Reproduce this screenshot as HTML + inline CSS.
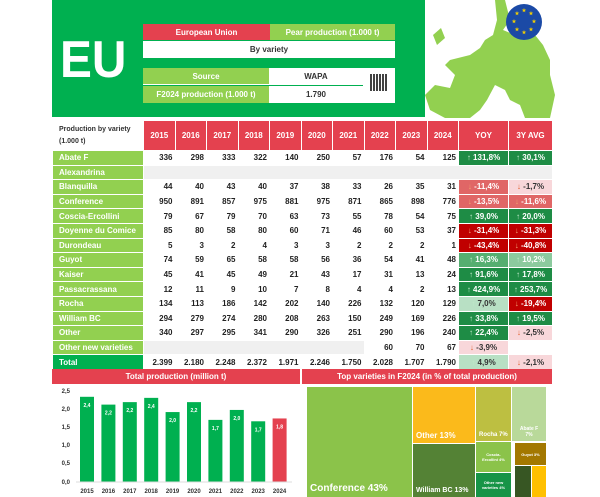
<!DOCTYPE html>
<html><head><meta charset="utf-8"><style>
*{margin:0;padding:0;box-sizing:border-box}
body{width:600px;height:497px;background:#fff;position:relative;overflow:hidden;font-family:"Liberation Sans",Arial,sans-serif;font-weight:bold}
.a{position:absolute}
.c{display:flex;align-items:center;justify-content:center;text-align:center}
table{position:absolute;left:52px;top:120px;border-collapse:collapse;table-layout:fixed;width:500px;font-size:8px}
td{height:14.6px;border:1px solid #fff;padding:0 2px;text-align:right;color:#222;white-space:nowrap;overflow:hidden}
td.l{background:#92D050;color:#fff;text-align:left;padding-left:6px}
th{background:#E4414F;color:#fff;height:30px;border:1px solid #fff;font-size:8px}
th.l{background:#fff;color:#333;text-align:left;padding-left:6px;font-size:7px;line-height:12px}
.g{background:#f0f0f0}
.p{color:#fff;text-align:center}
.dg{background:#1E8C45}.mg{background:#55AE70}.lg{background:#8CCA9E}.vg{background:#B8E0C4;color:#333}
.dr{background:#C00000}.mr{background:#E06666}.pr{background:#F8D7DA;color:#333}
.u::before{content:"↑ ";color:#bfe8c9}.d::before{content:"↓ ";color:#E06030}
.dr.d::before,.mr.d::before{color:#F0A070}
.tm{position:absolute;color:#fff;display:flex;align-items:flex-end;padding:3px;white-space:nowrap}
</style></head><body>
<div class="a" style="left:52px;top:0;width:373px;height:117px;background:#00B050"></div>
<div class="a" style="left:60px;top:30px;font-size:52px;color:#fff;font-weight:bold;transform:scaleX(0.92);transform-origin:left">EU</div>
<div class="a c" style="left:143px;top:24px;width:127px;height:16px;background:#E4414F;color:#fff;font-size:8px">European Union</div>
<div class="a c" style="left:270px;top:24px;width:125px;height:16px;background:#92D050;color:#fff;font-size:8px">Pear production (1.000 t)</div>
<div class="a c" style="left:143px;top:41px;width:252px;height:17px;background:#fff;color:#333;font-size:8px">By variety</div>
<div class="a c" style="left:143px;top:68px;width:126px;height:17px;background:#92D050;color:#fff;font-size:8px;border-bottom:1px solid #fff">Source</div>
<div class="a c" style="left:143px;top:86px;width:126px;height:17px;background:#92D050;color:#fff;font-size:8px">F2024 production (1.000 t)</div>
<div class="a c" style="left:269px;top:68px;width:94px;height:17px;background:#fff;color:#333;font-size:8px">WAPA</div>
<div class="a c" style="left:269px;top:86px;width:94px;height:17px;background:#fff;color:#333;font-size:8px">1.790</div>
<div class="a" style="left:363px;top:68px;width:32px;height:35px;background:#fff"></div>
<div class="a" style="left:370px;top:74px;width:17px;height:17px;background:repeating-linear-gradient(90deg,#222 0 2px,#fff 2px 3px),#222;opacity:.85"></div>
<svg class="a" style="left:425px;top:0" width="130" height="118">
<path d="M70 0 L80 0 L85 20 L78 30 L90 35 L100 25 L110 35 L118 45 L125 60 L125 75 L130 95 L125 118 L100 118 L95 105 L85 100 L80 90 L70 85 L62 100 L55 110 L45 118 L20 118 L5 110 L0 95 L10 85 L25 88 L30 75 L20 65 L25 60 L45 55 L55 48 L60 40 L68 35 L72 20 Z" fill="#92D050"/>
<path d="M8 35 L16 28 L20 38 L12 45 Z" fill="#92D050"/>
<circle cx="99" cy="22" r="18" fill="#1B4AA6"/>
<g fill="#F5D000" font-size="5" text-anchor="middle"><text x="99" y="12">★</text><text x="106" y="15">★</text><text x="109" y="23">★</text><text x="106" y="31">★</text><text x="99" y="34">★</text><text x="92" y="31">★</text><text x="89" y="23">★</text><text x="92" y="15">★</text></g>
</svg>
<table>
<colgroup><col style="width:91px"><col span="10" style="width:31.5px"><col style="width:50px"><col style="width:44px"></colgroup>
<tr><th class="l">Production by variety<br>(1.000 t)</th><th>2015</th><th>2016</th><th>2017</th><th>2018</th><th>2019</th><th>2020</th><th>2021</th><th>2022</th><th>2023</th><th>2024</th><th>YOY</th><th>3Y AVG</th></tr>
<tr><td class="l">Abate F</td><td>336</td><td>298</td><td>333</td><td>322</td><td>140</td><td>250</td><td>57</td><td>176</td><td>54</td><td>125</td><td class="p dg u">131,8%</td><td class="p dg u">30,1%</td></tr>
<tr><td class="l">Alexandrina</td><td class="g" colspan="12"></td></tr>
<tr><td class="l">Blanquilla</td><td>44</td><td>40</td><td>43</td><td>40</td><td>37</td><td>38</td><td>33</td><td>26</td><td>35</td><td>31</td><td class="p mr d">-11,4%</td><td class="p pr d">-1,7%</td></tr>
<tr><td class="l">Conference</td><td>950</td><td>891</td><td>857</td><td>975</td><td>881</td><td>975</td><td>871</td><td>865</td><td>898</td><td>776</td><td class="p mr d">-13,5%</td><td class="p mr d">-11,6%</td></tr>
<tr><td class="l">Coscia-Ercollini</td><td>79</td><td>67</td><td>79</td><td>70</td><td>63</td><td>73</td><td>55</td><td>78</td><td>54</td><td>75</td><td class="p dg u">39,0%</td><td class="p dg u">20,0%</td></tr>
<tr><td class="l">Doyenne du Comice</td><td>85</td><td>80</td><td>58</td><td>80</td><td>60</td><td>71</td><td>46</td><td>60</td><td>53</td><td>37</td><td class="p dr d">-31,4%</td><td class="p dr d">-31,3%</td></tr>
<tr><td class="l">Durondeau</td><td>5</td><td>3</td><td>2</td><td>4</td><td>3</td><td>3</td><td>2</td><td>2</td><td>2</td><td>1</td><td class="p dr d">-43,4%</td><td class="p dr d">-40,8%</td></tr>
<tr><td class="l">Guyot</td><td>74</td><td>59</td><td>65</td><td>58</td><td>58</td><td>56</td><td>36</td><td>54</td><td>41</td><td>48</td><td class="p mg u">16,3%</td><td class="p lg u">10,2%</td></tr>
<tr><td class="l">Kaiser</td><td>45</td><td>41</td><td>45</td><td>49</td><td>21</td><td>43</td><td>17</td><td>31</td><td>13</td><td>24</td><td class="p dg u">91,6%</td><td class="p dg u">17,8%</td></tr>
<tr><td class="l">Passacrassana</td><td>12</td><td>11</td><td>9</td><td>10</td><td>7</td><td>8</td><td>4</td><td>4</td><td>2</td><td>13</td><td class="p dg u">424,9%</td><td class="p dg u">253,7%</td></tr>
<tr><td class="l">Rocha</td><td>134</td><td>113</td><td>186</td><td>142</td><td>202</td><td>140</td><td>226</td><td>132</td><td>120</td><td>129</td><td class="p vg u">7,0%</td><td class="p dr d">-19,4%</td></tr>
<tr><td class="l">William BC</td><td>294</td><td>279</td><td>274</td><td>280</td><td>208</td><td>263</td><td>150</td><td>249</td><td>169</td><td>226</td><td class="p dg u">33,8%</td><td class="p dg u">19,5%</td></tr>
<tr><td class="l">Other</td><td>340</td><td>297</td><td>295</td><td>341</td><td>290</td><td>326</td><td>251</td><td>290</td><td>196</td><td>240</td><td class="p dg u">22,4%</td><td class="p pr d">-2,5%</td></tr>
<tr><td class="l">Other new varieties</td><td class="g" colspan="7"></td><td>60</td><td>70</td><td>67</td><td class="p pr d">-3,9%</td><td></td></tr>
<tr><td class="l" style="background:#00B050">Total</td><td>2.399</td><td>2.180</td><td>2.248</td><td>2.372</td><td>1.971</td><td>2.246</td><td>1.750</td><td>2.028</td><td>1.707</td><td>1.790</td><td class="p vg u">4,9%</td><td class="p pr d">-2,1%</td></tr>
</table>
<div class="a c" style="left:52px;top:369px;width:248px;height:15px;background:#E4414F;color:#fff;font-size:8px">Total production (million t)</div>
<div class="a c" style="left:302px;top:369px;width:250px;height:15px;background:#E4414F;color:#fff;font-size:8px">Top varieties in F2024 (in % of total production)</div>
<svg class="a" style="left:52px;top:385px" width="248" height="112" font-family="Liberation Sans" font-size="6" fill="#333">
<g text-anchor="end"><text x="18" y="8">2,5</text><text x="18" y="26">2,0</text><text x="18" y="44">1,5</text><text x="18" y="62">1,0</text><text x="18" y="80">0,5</text><text x="18" y="99">0,0</text></g>
<g id="b"></g>
<line x1="24" y1="97" x2="240" y2="97" stroke="#ddd"/>
</svg>
<script>
var v=[2.4,2.18,2.25,2.37,1.97,2.25,1.75,2.03,1.71,1.79],l=[2.4,2.2,2.2,2.4,2.0,2.2,1.7,2.0,1.7,1.8],s='';
for(var i=0;i<10;i++){var x=28+i*21.4,h=v[i]*35.5,y=97-h;s+='<rect x="'+x+'" y="'+y+'" width="14" height="'+h+'" fill="'+(i==9?'#E4414F':'#00B050')+'"/><text x="'+(x+7)+'" y="'+(y+10)+'" text-anchor="middle" fill="#fff" font-size="5" font-weight="bold">'+l[i].toFixed(1).replace('.',',')+'</text><text x="'+(x+7)+'" y="108" text-anchor="middle">'+(2015+i)+'</text>';}
document.getElementById('b').innerHTML=s;
</script>
<div class="tm" style="left:307px;top:387px;width:105px;height:110px;background:#8BC34A;font-size:10px">Conference 43%</div>
<div class="tm" style="left:413px;top:387px;width:62px;height:56px;background:#FBBA1B;font-size:8px">Other 13%</div>
<div class="tm" style="left:413px;top:444px;width:62px;height:53px;background:#548235;font-size:7px">William BC 13%</div>
<div class="tm" style="left:476px;top:387px;width:35px;height:54px;background:#BDBF41;font-size:6px">Rocha 7%</div>
<div class="tm c" style="left:476px;top:442px;width:35px;height:30px;background:#8BC34A;font-size:4px;align-items:center;white-space:normal">Coscia-<br>Ercollini 4%</div>
<div class="tm c" style="left:476px;top:473px;width:35px;height:24px;background:#179447;font-size:4px;align-items:center;white-space:normal">Other new<br>varieties 4%</div>
<div class="tm c" style="left:512px;top:387px;width:34px;height:54px;background:#B9D99A;font-size:5px;align-items:flex-end;white-space:normal">Abate F<br>7%</div>
<div class="tm c" style="left:515px;top:443px;width:31px;height:22px;background:#A37800;font-size:4px;align-items:center">Guyot 3%</div>
<div class="a" style="left:515px;top:466px;width:16px;height:31px;background:#375623"></div>
<div class="a" style="left:532px;top:466px;width:14px;height:31px;background:#FFC000"></div>
</body></html>
